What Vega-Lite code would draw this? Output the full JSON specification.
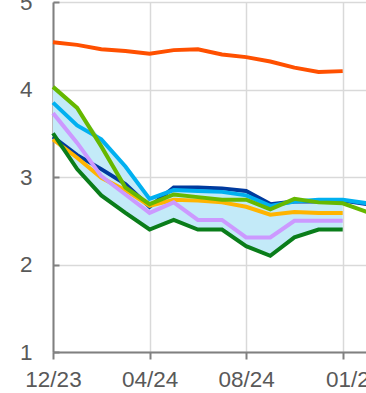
{
  "$schema": "https://vega.github.io/schema/vega-lite/v6.json",
  "autosize": "none",
  "padding": {"left": 53, "top": 2, "right": 0, "bottom": 41},
  "width": 338,
  "height": 350,
  "config": {
    "view": {"stroke": null},
    "axis": {
      "title": null,
      "labelFont": "Liberation Sans",
      "labelFontSize": 22.5,
      "labelColor": "#595959",
      "domainColor": "#808080",
      "domainWidth": 2,
      "tickColor": "#808080",
      "tickWidth": 2,
      "gridColor": "#d9d9d9",
      "gridWidth": 1.5
    }
  },
  "data": {
    "values": [
      {"month": "12/23", "series": "red", "value": 4.54},
      {"month": "01/24", "series": "red", "value": 4.51},
      {"month": "02/24", "series": "red", "value": 4.46},
      {"month": "03/24", "series": "red", "value": 4.44},
      {"month": "04/24", "series": "red", "value": 4.41},
      {"month": "05/24", "series": "red", "value": 4.45},
      {"month": "06/24", "series": "red", "value": 4.46},
      {"month": "07/24", "series": "red", "value": 4.40},
      {"month": "08/24", "series": "red", "value": 4.37},
      {"month": "09/24", "series": "red", "value": 4.32},
      {"month": "10/24", "series": "red", "value": 4.25},
      {"month": "11/24", "series": "red", "value": 4.20},
      {"month": "01/25", "series": "red", "value": 4.21},

      {"month": "12/23", "series": "navy", "value": 3.46},
      {"month": "01/24", "series": "navy", "value": 3.25},
      {"month": "02/24", "series": "navy", "value": 3.09},
      {"month": "03/24", "series": "navy", "value": 2.92},
      {"month": "04/24", "series": "navy", "value": 2.66},
      {"month": "05/24", "series": "navy", "value": 2.88},
      {"month": "06/24", "series": "navy", "value": 2.88},
      {"month": "07/24", "series": "navy", "value": 2.87},
      {"month": "08/24", "series": "navy", "value": 2.84},
      {"month": "09/24", "series": "navy", "value": 2.69},
      {"month": "10/24", "series": "navy", "value": 2.72},
      {"month": "11/24", "series": "navy", "value": 2.72},
      {"month": "01/25", "series": "navy", "value": 2.73},
      {"month": "02/25", "series": "navy", "value": 2.69},

      {"month": "12/23", "series": "orange", "value": 3.43},
      {"month": "01/24", "series": "orange", "value": 3.22},
      {"month": "02/24", "series": "orange", "value": 2.99},
      {"month": "03/24", "series": "orange", "value": 2.85},
      {"month": "04/24", "series": "orange", "value": 2.67},
      {"month": "05/24", "series": "orange", "value": 2.74},
      {"month": "06/24", "series": "orange", "value": 2.73},
      {"month": "07/24", "series": "orange", "value": 2.71},
      {"month": "08/24", "series": "orange", "value": 2.66},
      {"month": "09/24", "series": "orange", "value": 2.57},
      {"month": "10/24", "series": "orange", "value": 2.60},
      {"month": "11/24", "series": "orange", "value": 2.59},
      {"month": "01/25", "series": "orange", "value": 2.59},

      {"month": "12/23", "series": "lavender", "value": 3.73},
      {"month": "01/24", "series": "lavender", "value": 3.39},
      {"month": "02/24", "series": "lavender", "value": 3.01},
      {"month": "03/24", "series": "lavender", "value": 2.80},
      {"month": "04/24", "series": "lavender", "value": 2.59},
      {"month": "05/24", "series": "lavender", "value": 2.71},
      {"month": "06/24", "series": "lavender", "value": 2.51},
      {"month": "07/24", "series": "lavender", "value": 2.51},
      {"month": "08/24", "series": "lavender", "value": 2.31},
      {"month": "09/24", "series": "lavender", "value": 2.31},
      {"month": "10/24", "series": "lavender", "value": 2.50},
      {"month": "11/24", "series": "lavender", "value": 2.50},
      {"month": "01/25", "series": "lavender", "value": 2.50},

      {"month": "12/23", "series": "cyan", "value": 3.85},
      {"month": "01/24", "series": "cyan", "value": 3.59},
      {"month": "02/24", "series": "cyan", "value": 3.43},
      {"month": "03/24", "series": "cyan", "value": 3.12},
      {"month": "04/24", "series": "cyan", "value": 2.75},
      {"month": "05/24", "series": "cyan", "value": 2.85},
      {"month": "06/24", "series": "cyan", "value": 2.84},
      {"month": "07/24", "series": "cyan", "value": 2.83},
      {"month": "08/24", "series": "cyan", "value": 2.79},
      {"month": "09/24", "series": "cyan", "value": 2.67},
      {"month": "10/24", "series": "cyan", "value": 2.72},
      {"month": "11/24", "series": "cyan", "value": 2.74},
      {"month": "01/25", "series": "cyan", "value": 2.74},
      {"month": "02/25", "series": "cyan", "value": 2.70},

      {"month": "12/23", "series": "lime", "value": 4.03},
      {"month": "01/24", "series": "lime", "value": 3.79},
      {"month": "02/24", "series": "lime", "value": 3.35},
      {"month": "03/24", "series": "lime", "value": 2.88},
      {"month": "04/24", "series": "lime", "value": 2.69},
      {"month": "05/24", "series": "lime", "value": 2.80},
      {"month": "06/24", "series": "lime", "value": 2.77},
      {"month": "07/24", "series": "lime", "value": 2.74},
      {"month": "08/24", "series": "lime", "value": 2.74},
      {"month": "09/24", "series": "lime", "value": 2.63},
      {"month": "10/24", "series": "lime", "value": 2.75},
      {"month": "11/24", "series": "lime", "value": 2.71},
      {"month": "01/25", "series": "lime", "value": 2.70},
      {"month": "02/25", "series": "lime", "value": 2.60},

      {"month": "12/23", "series": "green", "value": 3.50},
      {"month": "01/24", "series": "green", "value": 3.09},
      {"month": "02/24", "series": "green", "value": 2.79},
      {"month": "03/24", "series": "green", "value": 2.59},
      {"month": "04/24", "series": "green", "value": 2.40},
      {"month": "05/24", "series": "green", "value": 2.51},
      {"month": "06/24", "series": "green", "value": 2.40},
      {"month": "07/24", "series": "green", "value": 2.40},
      {"month": "08/24", "series": "green", "value": 2.21},
      {"month": "09/24", "series": "green", "value": 2.10},
      {"month": "10/24", "series": "green", "value": 2.31},
      {"month": "11/24", "series": "green", "value": 2.40},
      {"month": "01/25", "series": "green", "value": 2.40}
    ]
  },
  "encoding": {
    "x": {
      "field": "month",
      "type": "ordinal",
      "scale": {
        "type": "point",
        "padding": 0,
        "domain": ["12/23", "01/24", "02/24", "03/24", "04/24", "05/24", "06/24", "07/24", "08/24", "09/24", "10/24", "11/24", "01/25", "02/25", "03/25"]
      },
      "axis": {
        "values": ["12/23", "04/24", "08/24", "01/25"],
        "labelAngle": 0,
        "labelOffset": {"condition": {"test": "datum.value == '01/25'", "value": 11}, "value": 0},
        "tickSize": 7,
        "labelPadding": 9,
        "grid": true
      }
    }
  },
  "layer": [
    {
      "transform": [
        {"filter": "datum.series != 'red' && datum.month != '02/25'"},
        {"aggregate": [
          {"op": "min", "field": "value", "as": "lo"},
          {"op": "max", "field": "value", "as": "hi"}
        ], "groupby": ["month"]}
      ],
      "mark": {"type": "area", "color": "#c3eaf8", "opacity": 1},
      "encoding": {
        "y": {
          "field": "lo",
          "type": "quantitative",
          "scale": {"domain": [1, 5], "nice": false, "zero": false},
          "axis": {
            "values": [1, 2, 3, 4, 5],
            "format": "d",
            "tickSize": -6,
            "labelPadding": 27,
            "grid": true
          }
        },
        "y2": {"field": "hi"}
      }
    },
    {
      "mark": {"type": "line", "strokeWidth": 4, "strokeJoin": "miter", "strokeCap": "butt"},
      "encoding": {
        "y": {"field": "value", "type": "quantitative"},
        "color": {
          "field": "series",
          "type": "nominal",
          "legend": null,
          "scale": {
            "domain": ["navy", "orange", "lavender", "cyan", "lime", "green", "red"],
            "range": ["#003a9e", "#ffb400", "#cc99ff", "#00b0f0", "#66b800", "#0a7d1a", "#ff5000"]
          }
        }
      }
    }
  ]
}
